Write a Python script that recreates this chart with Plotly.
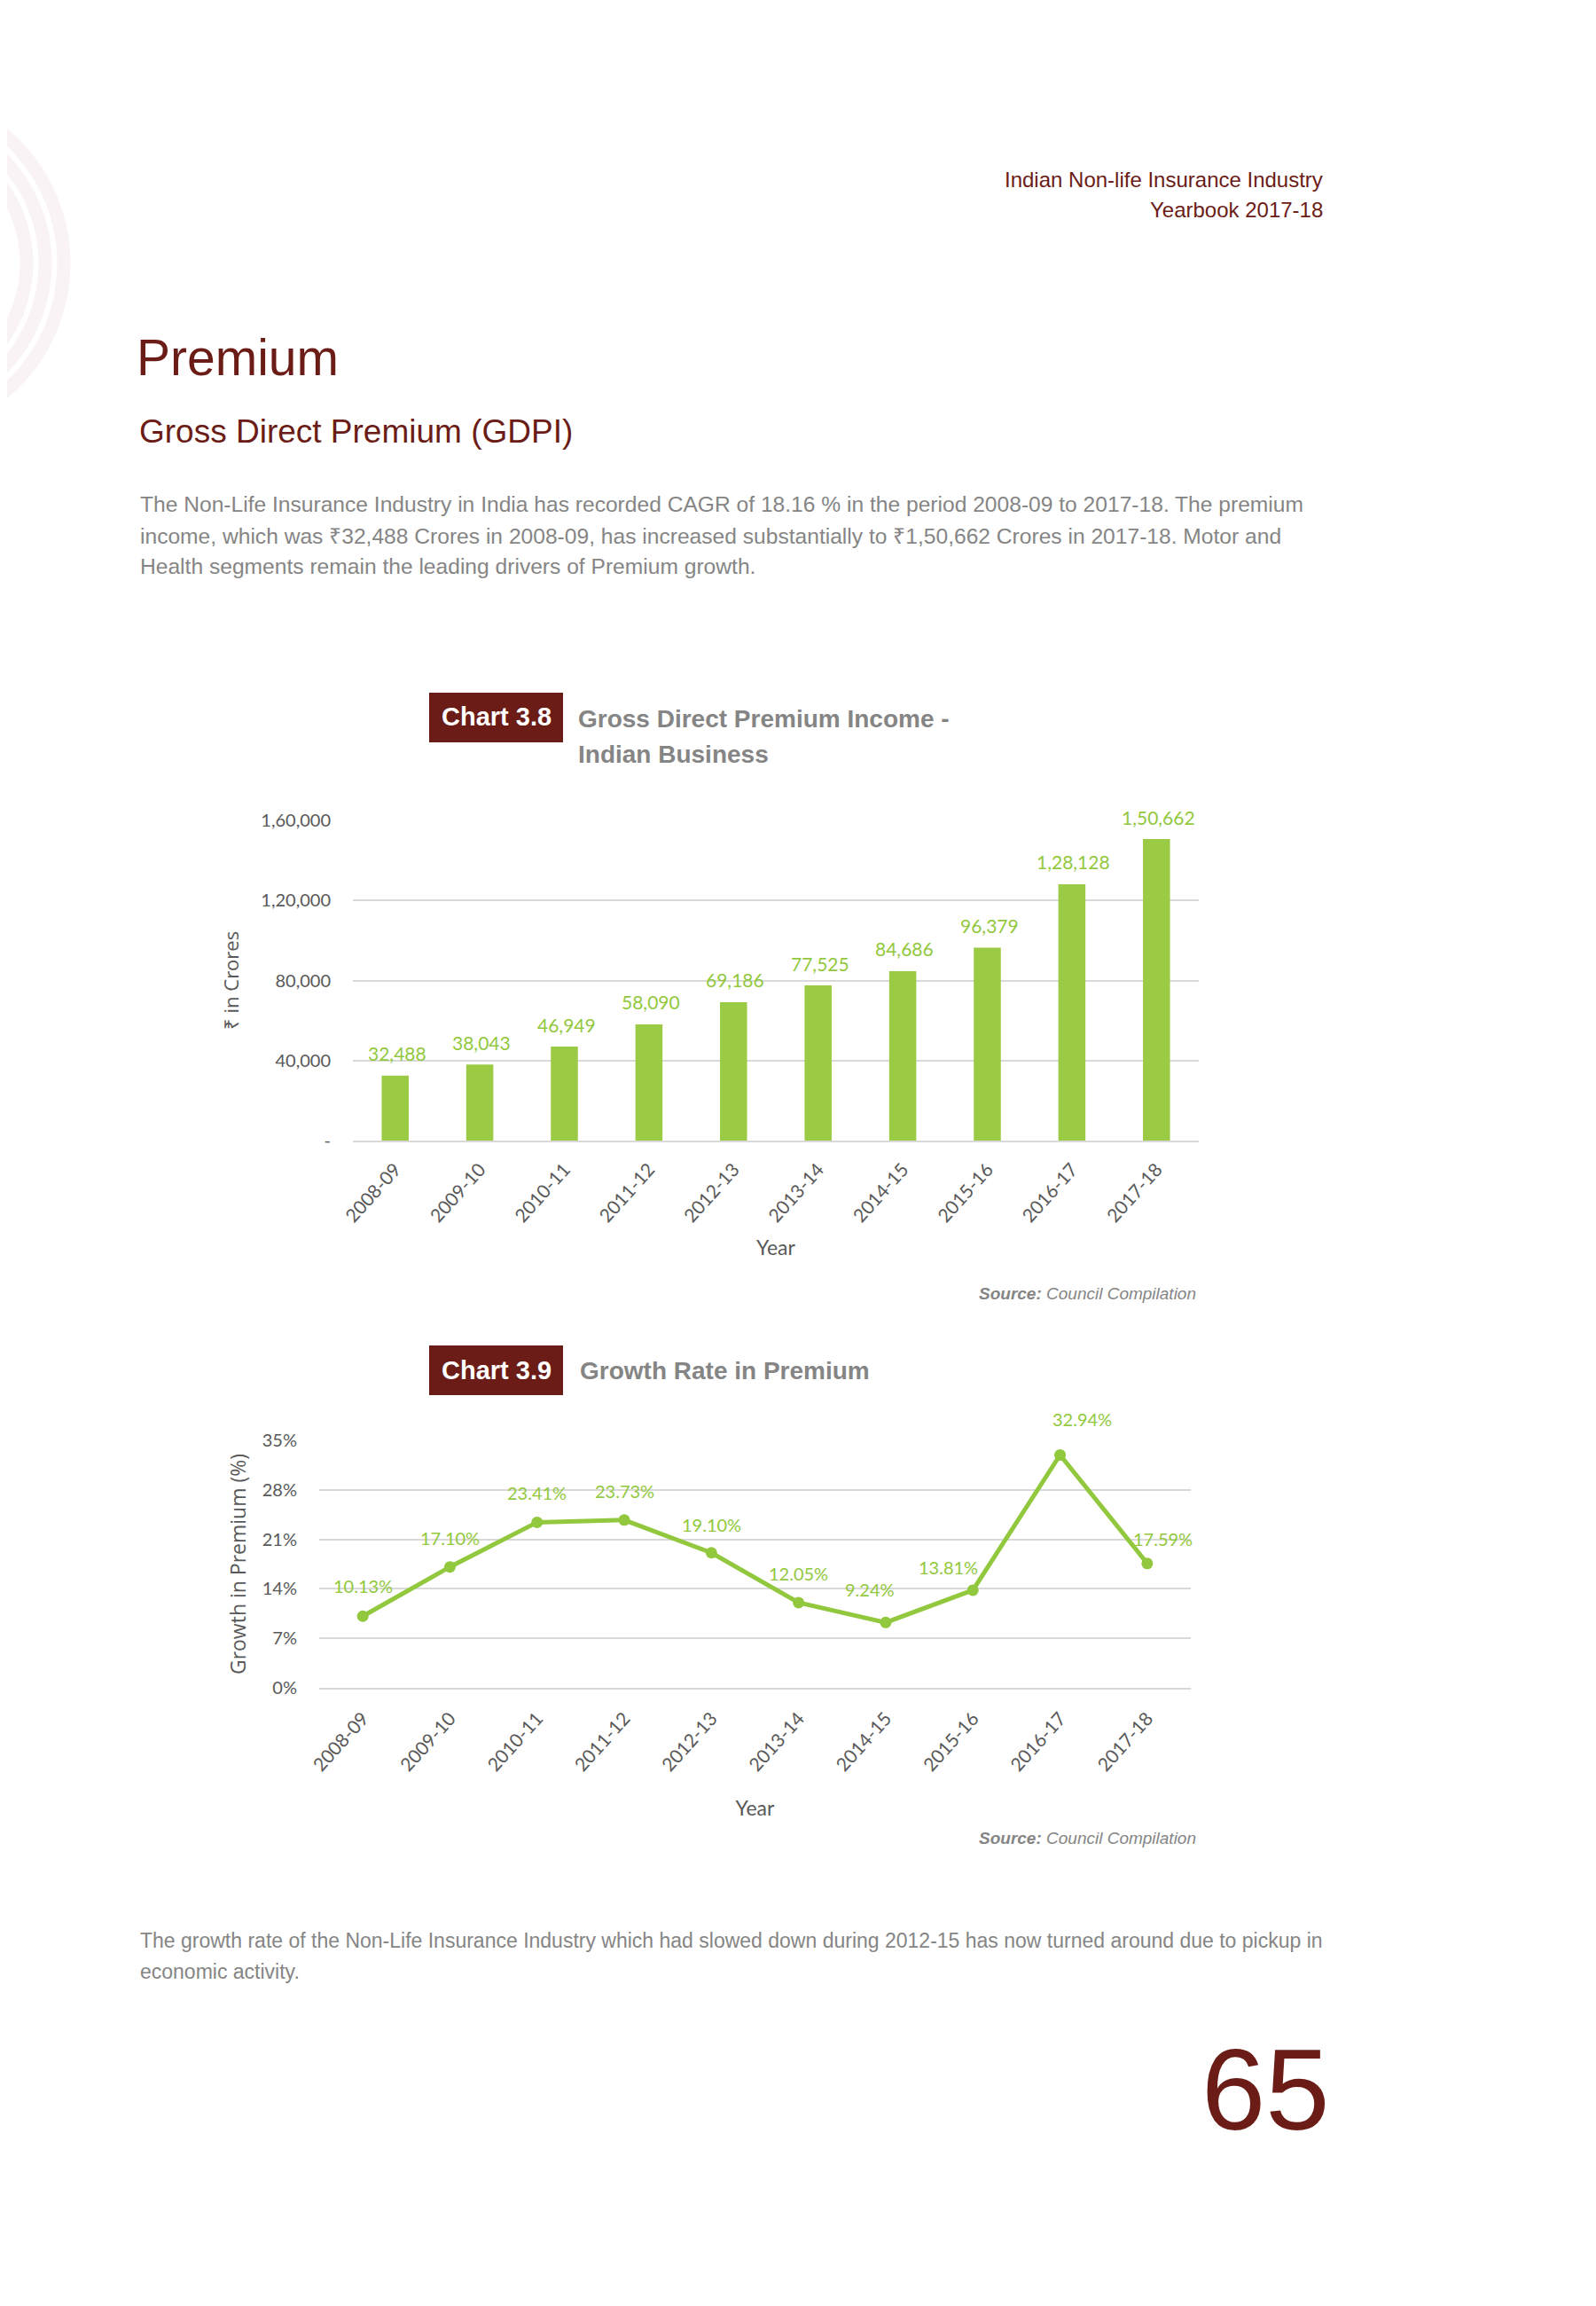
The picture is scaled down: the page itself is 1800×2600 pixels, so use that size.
import plotly.graph_objects as go

W, H = 1800, 2600
OFF = 8  # page body margin compensation

years = ["2008-09", "2009-10", "2010-11", "2011-12", "2012-13",
         "2013-14", "2014-15", "2015-16", "2016-17", "2017-18"]
premium = [32488, 38043, 46949, 58090, 69186, 77525, 84686, 96379, 128128, 150662]
growth = [10.13, 17.10, 23.41, 23.73, 19.10, 12.05, 9.24, 13.81, 32.94, 17.59]

prem_tickvals = [0, 40000, 80000, 120000, 160000]
prem_ticktext = ["-", "40,000", "80,000", "1,20,000", "1,60,000"]
growth_tickvals = [0, 7, 14, 21, 28, 35]
growth_ticktext = ["0%", "7%", "14%", "21%", "28%", "35%"]

# label offsets (px) for growth labels
g_xshift = [0, 0, 0, 0, 0, 0, -18, -28, 25, 18]
g_yshift = [34, 33, 33, 33, 32, 33, 37, 26, 40, 28]

DARK_RED = "#6B1C16"
GREEN = "#92C83E"
BAR_GREEN = "#9BCB44"
GREY_TXT = "#858585"
AX_TXT = "#595959"
GRID = "#D9D9D9"
PAGE = "Liberation Sans, Arial, sans-serif"
CHART_FONT = "Lato, Open Sans, sans-serif"
WIDE = "Open Sans, sans-serif"


def indian(n):
    s = str(int(n))
    if len(s) <= 3:
        return s
    last3 = s[-3:]
    rest = s[:-3]
    parts = []
    while len(rest) > 2:
        parts.insert(0, rest[-2:])
        rest = rest[:-2]
    if rest:
        parts.insert(0, rest)
    return ",".join(parts) + "," + last3


def px(x):
    return (x - OFF) / W


def py(y):
    return 1 - (y - OFF) / H


fig = go.Figure()

fig.add_trace(go.Bar(
    x=years, y=premium, xaxis="x", yaxis="y",
    marker=dict(color=BAR_GREEN, line=dict(width=0)),
    width=0.32,
    showlegend=False,
))

fig.add_trace(go.Scatter(
    x=years, y=growth, xaxis="x2", yaxis="y2",
    mode="lines+markers",
    line=dict(color=GREEN, width=5),
    marker=dict(color=GREEN, size=13),
    cliponaxis=False,
    showlegend=False,
))

annotations = []
for yr, v in zip(years, premium):
    annotations.append(dict(
        x=yr, y=v, xref="x", yref="y", text=indian(v),
        showarrow=False, xshift=2, yshift=25,
        font=dict(color=GREEN, size=21, family=CHART_FONT),
    ))
for i, (yr, g) in enumerate(zip(years, growth)):
    annotations.append(dict(
        x=yr, y=g, xref="x2", yref="y2", text=f"{g:.2f}%",
        showarrow=False, xshift=g_xshift[i], yshift=g_yshift[i],
        font=dict(color=GREEN, size=20, family=CHART_FONT),
    ))


def txt(x, y, text, size, color, anchor="left", family=PAGE, yanchor="middle"):
    annotations.append(dict(
        x=px(x), y=py(y), xref="paper", yref="paper", text=text,
        showarrow=False, xanchor=anchor, yanchor=yanchor,
        font=dict(size=size, color=color, family=family),
    ))


# header
txt(1494, 202, "Indian Non-life Insurance Industry", 24, DARK_RED, "right")
txt(1494, 236, "Yearbook 2017-18", 24, DARK_RED, "right")
txt(152, 403, "Premium", 57, DARK_RED)
txt(155, 487, "Gross Direct Premium (GDPI)", 37, DARK_RED)

para = [
    "The Non-Life Insurance Industry in India has recorded CAGR of 18.16 % in the period 2008-09 to 2017-18. The premium",
    "income, which was ₹32,488 Crores in 2008-09, has increased substantially to ₹1,50,662 Crores in 2017-18. Motor and",
    "Health segments remain the leading drivers of Premium growth.",
]
for i, line in enumerate(para):
    txt(156, 569 + i * 35, line, 24.6, GREY_TXT)

shapes = []
# chart 3.8 header
shapes.append(dict(type="rect", xref="paper", yref="paper",
                   x0=px(484), x1=px(635), y0=py(837), y1=py(781),
                   fillcolor=DARK_RED, line=dict(width=0), layer="below"))
txt(559.5, 808, "<b>Chart 3.8</b>", 29, "white", "center")
txt(650, 810, "<b>Gross Direct Premium Income -</b>", 28, GREY_TXT)
txt(650, 850, "<b>Indian Business</b>", 28, GREY_TXT)
txt(1351, 1458, "<b><i>Source:</i></b><i> Council Compilation</i>", 19, GREY_TXT, "right")

# chart 3.9 header
shapes.append(dict(type="rect", xref="paper", yref="paper",
                   x0=px(484), x1=px(635), y0=py(1573), y1=py(1517),
                   fillcolor=DARK_RED, line=dict(width=0), layer="below"))
txt(559.5, 1545, "<b>Chart 3.9</b>", 29, "white", "center")
txt(652, 1545, "<b>Growth Rate in Premium</b>", 28, GREY_TXT)
txt(1351, 2072, "<b><i>Source:</i></b><i> Council Compilation</i>", 19, GREY_TXT, "right")

# bottom paragraph
txt(156, 2188, "The growth rate of the Non-Life Insurance Industry which had slowed down during 2012-15 has now turned around due to pickup in", 23, GREY_TXT)
txt(156, 2223, "economic activity.", 23, GREY_TXT)
txt(1502, 2356, "65", 130, DARK_RED, "right")

# decorative arcs
for r in [190, 169, 148]:
    shapes.append(dict(type="circle", xref="paper", yref="paper",
                       x0=px(-118 - r), x1=px(-118 + r),
                       y0=py(297 + r), y1=py(297 - r),
                       line=dict(color="#F9F3F6", width=15), layer="below"))


def dom_x(a, b):
    return [px(a), px(b)]


def dom_y(top, bottom):
    return [py(bottom), py(top)]


cat_range = [-0.5, len(years) - 0.5]

fig.update_layout(
    width=W, height=H,
    margin=dict(l=0, r=0, t=0, b=0, pad=0, autoexpand=False),
    paper_bgcolor="white", plot_bgcolor="white",
    annotations=annotations,
    shapes=shapes,
    xaxis=dict(domain=dom_x(398, 1352), anchor="y", type="category", automargin=False,
               range=cat_range,
               showline=True, linecolor=GRID, linewidth=2, showgrid=False,
               ticks="", tickangle=-48, zeroline=False, ticklabelstandoff=10,
               tickfont=dict(size=21, color=AX_TXT, family=CHART_FONT),
               title=dict(text="Year", font=dict(size=23, color=AX_TXT, family=CHART_FONT), standoff=17)),
    yaxis=dict(domain=dom_y(925, 1286), anchor="x", range=[0, 160000], automargin=False,
               tickvals=prem_tickvals, ticktext=prem_ticktext,
               showgrid=True, gridcolor=GRID, gridwidth=2,
               showline=False, zeroline=False, ticks="",
               ticklabelstandoff=24,
               tickfont=dict(size=20, color=AX_TXT, family=CHART_FONT),
               title=dict(text="₹ in Crores", font=dict(size=22, color=AX_TXT, family=WIDE), standoff=18)),
    xaxis2=dict(domain=dom_x(360, 1343), anchor="y2", type="category", automargin=False,
                range=cat_range,
                showline=True, linecolor=GRID, linewidth=2, showgrid=False,
                ticks="", tickangle=-48,
                zeroline=False, ticklabelstandoff=12,
                tickfont=dict(size=21, color=AX_TXT, family=CHART_FONT),
                title=dict(text="Year", font=dict(size=23, color=AX_TXT, family=CHART_FONT), standoff=30)),
    yaxis2=dict(domain=dom_y(1624, 1903), anchor="x2", range=[0, 35], automargin=False,
                tickvals=growth_tickvals, ticktext=growth_ticktext,
                showgrid=True, gridcolor=GRID, gridwidth=2,
                showline=False, zeroline=False, ticks="",
                ticklabelstandoff=24,
                tickfont=dict(size=20, color=AX_TXT, family=CHART_FONT),
                title=dict(text="Growth in Premium (%)", font=dict(size=23, color=AX_TXT, family=WIDE), standoff=11)),
)

fig.write_html("out.html")
